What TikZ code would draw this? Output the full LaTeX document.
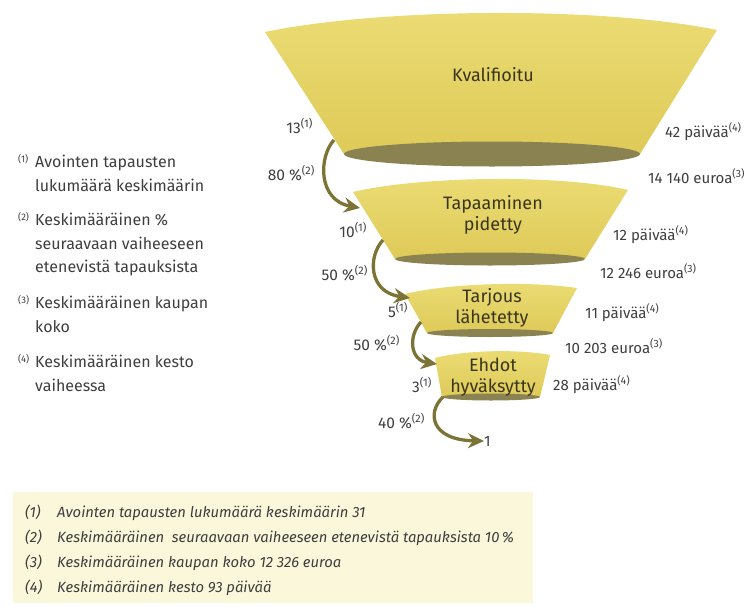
\documentclass[tikz,border=0pt]{standalone}
\usepackage{fontspec}
\setmainfont{Fira Sans}
\usetikzlibrary{arrows.meta}
\definecolor{funneltop}{HTML}{EBDC74}
\definecolor{funnelyellow}{HTML}{DECA58}
\definecolor{funneldark}{HTML}{8A8250}
\definecolor{flowolive}{HTML}{7C7436}
\definecolor{stagetext}{HTML}{3A361C}
\definecolor{labelgray}{HTML}{3E3E3E}
\definecolor{boxcream}{HTML}{FBF7DA}
\newcommand{\refno}[1]{\textsuperscript{(#1)}}
\tikzset{
  {funnel/.style} ={top color=funneltop, bottom color=funnelyellow, draw=none},
  {funnel base/.style} ={fill=funneldark},
  {stage/.style} ={text=stagetext, align=center, inner sep=0,
                   font=\fontsize{18}{20.5}\selectfont},
  {flow/.style} ={draw=flowolive, line width=3.3pt, ->},
  {count/.style} ={anchor=base east, text=labelgray, inner sep=0,
                   font=\fontsize{15.5}{17}\selectfont},
  {rlabel/.style} ={count, anchor=base west, font=\fontsize{15}{17}\selectfont},
  {legend/.style} ={anchor=base west, align=left, text=labelgray, inner sep=0,
                    font=\fontsize{16}{23.5}\selectfont},
  {legend mark/.style} ={anchor=base west, text=labelgray, inner sep=0,
                         font=\fontsize{9.5}{10}\selectfont},
  {note/.style} ={anchor=base west, text=labelgray, inner sep=0,
                  font=\fontsize{14.8}{16}\selectfont\itshape},
  >={Stealth[length=16pt,width=15pt]},
}
\begin{document}
\begin{tikzpicture}[x=1pt,y=-1pt]
\useasboundingbox (0,0) rectangle (755,608);
% funnel stages
\path[funnel] (265,32) .. controls (380,8) and (600,6) .. (717,30)
  -- (640,154) -- (344,154) -- cycle;
\fill[funnel base] (492,154) ellipse (148pt and 12.5pt);
\path[funnel] (353,192) .. controls (420,176) and (560,174) .. (628,190)
  -- (585,259) -- (395,259) -- cycle;
\fill[funnel base] (490,259) ellipse (95pt and 6.5pt);
\path[funnel] (405,294) .. controls (450,283) and (530,281) .. (577,288)
  -- (553,333) -- (427,333) -- cycle;
\fill[funnel base] (490,333) ellipse (63pt and 4pt);
\path[funnel] (435,358) .. controls (465,350) and (520,349) .. (550,355)
  -- (540,397) -- (442,397) -- cycle;
\fill[funnel base] (491,397) ellipse (49pt and 3.5pt);
\node[stage] (kval) at (493,75) {Kvalifioitu};
\node[stage] (tapa) at (493,215) {Tapaaminen\\pidetty};
\node[stage] (tarj) at (492,308) {Tarjous\\lähetetty};
\node[stage] (ehdot) at (493,377) {Ehdot\\hyväksytty};
% flows between stages
\coordinate (k1) at (334,140);
\coordinate (t0) at (360,208);
\coordinate (t1) at (383,240);
\coordinate (j0) at (410,298);
\coordinate (j1) at (421,322);
\coordinate (e0) at (437,364);
\coordinate (e1) at (443,397);
\node[rlabel] (won) at (484,446) {1};
\draw[flow] (k1) .. controls (319,156) and (317,200) .. (t0);
\draw[flow] (t1) .. controls (368,256) and (368,292) .. (j0);
\draw[flow] (j1) .. controls (408,336) and (410,360) .. (e0);
\draw[flow] (e1) .. controls (427,412) and (430,440) .. (won.west);
% counts and rates
\node[count] (n13) at (313,133) {13\refno{1}};
\node[count] (r80) at (315,180) {80 \%\refno{2}};
\node[count] (n10) at (367,237) {10\refno{1}};
\node[count] (r50a) at (368,280) {50 \%\refno{2}};
\node[count] (n5) at (408,317) {5\refno{1}};
\node[count] (r50b) at (400,350) {50 \%\refno{2}};
\node[count] (n3) at (432,392) {3\refno{1}};
\node[count] (r40) at (425,428) {40 \%\refno{2}};
% durations and sizes
\node[rlabel] (d42) at (665,137) {42 päivää\refno{4}};
\node[rlabel] (e14) at (648,183) {14 140 euroa\refno{3}};
\node[rlabel] (d12) at (613,240) {12 päivää\refno{4}};
\node[rlabel] (e12) at (600,278) {12 246 euroa\refno{3}};
\node[rlabel] (d11) at (585,318) {11 päivää\refno{4}};
\node[rlabel] (e10) at (565,353) {10 203 euroa\refno{3}};
\node[rlabel] (d28) at (553,390) {28 päivää\refno{4}};
% legend
\node[legend] (leg1) at (35,191) {Avointen tapausten\\lukumäärä keskimäärin};
\node[legend] (leg2) at (35,272.5) {Keskimääräinen \%\\seuraavaan vaiheeseen\\etenevistä tapauksista};
\node[legend] (leg3) at (35,332) {Keskimääräinen kaupan\\koko};
\node[legend] (leg4) at (35,391) {Keskimääräinen kesto\\vaiheessa};
\node[legend mark] (m1) at (18,162) {(1)};
\node[legend mark] (m2) at (18,220) {(2)};
\node[legend mark] (m3) at (18,303) {(3)};
\node[legend mark] (m4) at (18,362) {(4)};
% totals box
\fill[boxcream] (13,492) rectangle (533,603);
\node[note] (t1no) at (25,517) {(1)};
\node[note] (t2no) at (25,542) {(2)};
\node[note] (t3no) at (25,567) {(3)};
\node[note] (t4no) at (25,592) {(4)};
\node[note] (tot1) at (57,517) {Avointen tapausten lukumäärä keskimäärin 31};
\node[note] (tot2) at (57,542) {Keskimääräinen \ seuraavaan vaiheeseen etenevistä tapauksista 10\,\%};
\node[note] (tot3) at (57,567) {Keskimääräinen kaupan koko 12 326 euroa};
\node[note] (tot4) at (57,592) {Keskimääräinen kesto 93 päivää};
\end{tikzpicture}
\end{document}
